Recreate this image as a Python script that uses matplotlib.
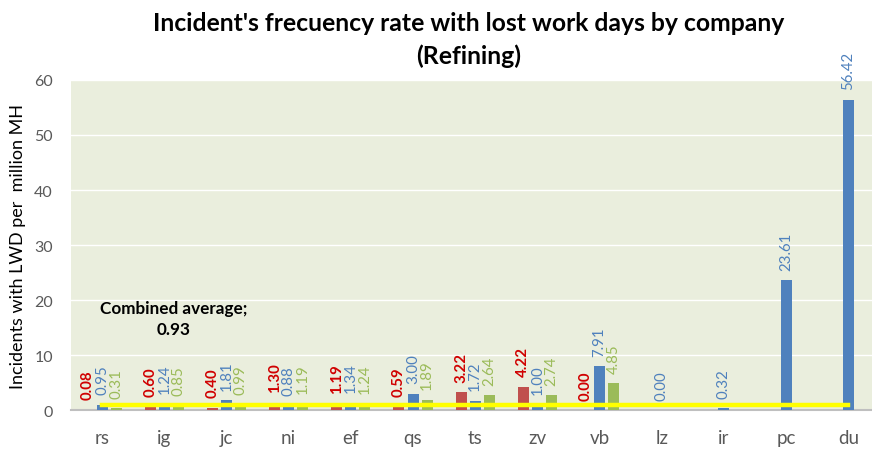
import numpy as np
import matplotlib.pyplot as plt

plt.rcParams['font.family'] = ['Lato', 'DejaVu Sans']

companies = ['rs', 'ig', 'jc', 'ni', 'ef', 'qs', 'ts', 'zv', 'vb', 'lz', 'ir', 'pc', 'du']
red_vals = [0.08, 0.60, 0.40, 1.30, 1.19, 0.59, 3.22, 4.22, 0.00, np.nan, np.nan, np.nan, np.nan]
blue_vals = [0.95, 1.24, 1.81, 0.88, 1.34, 3.00, 1.72, 1.00, 7.91, 0.00, 0.32, 23.61, 56.42]
green_vals = [0.31, 0.85, 0.99, 1.19, 1.24, 1.89, 2.64, 2.74, 4.85, np.nan, np.nan, np.nan, np.nan]
combined_avg = 0.93

fig = plt.figure(figsize=(8.72, 4.52), dpi=100)
ax = fig.add_axes([0.0814, 0.0907, 0.9186, 0.7301])
ax.set_facecolor('#EAEEDD')

x = np.arange(len(companies))
w = 0.177
off = 0.226
series = [
    (red_vals, -off, '#C0504D', '#D00000', 'bold'),
    (blue_vals, 0, '#4F81BD', '#4F81BD', 'normal'),
    (green_vals, off, '#9BBB59', '#9BBB59', 'normal'),
]
for vals, dx, col, tcol, fw in series:
    ax.bar(x + dx, vals, width=w, color=col, zorder=3)
    for xi, v in zip(x, vals):
        if np.isnan(v):
            continue
        ax.annotate(f'{v:.2f}', (xi + dx, v), xytext=(0, 7.5), textcoords='offset points',
                    rotation=90, ha='center', va='bottom', color=tcol,
                    fontsize=10.8, fontweight=fw, zorder=5)

# combined average line
ax.plot([x[0], x[-1]], [combined_avg, combined_avg], color='#FFFF00', lw=3.2, zorder=4)
ax.text(1.15, 16.7, 'Combined average;\n0.93', ha='center', va='center',
        fontsize=12.3, fontweight='bold', color='black', linespacing=1.4, zorder=5)

ax.set_xlim(-0.5, 12.38)
ax.set_ylim(0, 60)
ax.set_yticks(range(0, 61, 10))
ax.set_xticks(x)
ax.set_xticklabels(companies)
ax.grid(axis='y', color='white', lw=1, zorder=1)
ax.set_axisbelow(True)
for s in ['top', 'right', 'left']:
    ax.spines[s].set_visible(False)
ax.spines['bottom'].set_color('#BFBFBF')
ax.spines['bottom'].set_linewidth(1.5)
ax.tick_params(axis='both', length=0)
ax.tick_params(axis='x', labelsize=13.5, labelcolor='#595959', pad=14)
ax.tick_params(axis='y', labelsize=11.5, labelcolor='#595959', pad=13)
ax.set_ylabel('Incidents with LWD per  million MH', fontsize=13, color='black', labelpad=6)

fig.text(0.537, 0.948, "Incident's frecuency rate with lost work days by company",
         ha='center', va='center', fontsize=17.8, fontweight='bold')
fig.text(0.537, 0.876, '(Refining)', ha='center', va='center', fontsize=17.8, fontweight='bold')

fig.savefig('out.png', dpi=100)
